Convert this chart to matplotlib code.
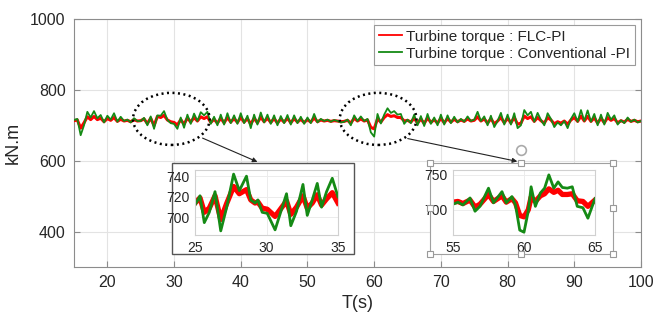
import numpy as np
import matplotlib
matplotlib.use('Agg')
import matplotlib.pyplot as plt
from matplotlib.patches import Ellipse, Rectangle, FancyArrowPatch
from matplotlib.lines import Line2D

plt.rcParams['font.family'] = ['Liberation Sans', 'DejaVu Sans']

# main trace, sampled every 0.5 s from 15 to 100 s
t_main = np.arange(15.0, 100.01, 0.5)
green_main = [
  715, 718, 672, 700, 738, 722, 740, 720, 729, 708,
  727, 716, 734, 710, 724, 712, 716, 708, 720, 712,
  712, 721, 700, 725, 690, 728, 727, 740, 715, 706,
  704, 690, 722, 693, 730, 704, 733, 712, 737, 728,
  738, 704, 724, 700, 730, 702, 734, 706, 728, 704,
  734, 706, 727, 692, 730, 702, 736, 708, 730, 704,
  728, 700, 726, 706, 729, 702, 728, 706, 724, 704,
  722, 706, 732, 708, 718, 712, 716, 710, 715, 712,
  708, 710, 716, 700, 728, 712, 725, 712, 718, 680,
  668, 732, 705, 730, 748, 735, 740, 730, 732, 704,
  716, 706, 730, 700, 726, 698, 732, 704, 722, 700,
  730, 702, 728, 706, 724, 708, 718, 710, 725, 712,
  716, 738, 712, 725, 700, 727, 695, 712, 735, 702,
  730, 702, 734, 692, 700, 743, 728, 738, 710, 735,
  715, 700, 734, 718, 695, 708, 700, 712, 692, 718,
  734, 710, 743, 712, 742, 710, 732, 700, 730, 702,
  735, 716, 728, 702, 714, 706, 722, 710, 716, 708,
  712]
red_main = [
  713, 715, 692, 707, 724, 716, 725, 716, 720, 710,
  719, 714, 722, 711, 717, 712, 714, 710, 716, 712,
  713, 718, 705, 720, 699, 725, 722, 728, 715, 710,
  708, 701, 716, 703, 721, 709, 722, 712, 724, 719,
  724, 708, 717, 706, 720, 707, 722, 709, 719, 708,
  722, 709, 719, 703, 720, 707, 723, 710, 720, 708,
  719, 706, 718, 709, 720, 707, 719, 709, 717, 708,
  716, 709, 721, 710, 715, 712, 714, 711, 713, 712,
  710, 711, 714, 706, 720, 712, 718, 712, 715, 694,
  690, 718, 709, 722, 730, 725, 727, 722, 722, 712,
  714, 709, 720, 706, 718, 705, 721, 708, 716, 706,
  720, 707, 719, 709, 717, 710, 715, 711, 718, 712,
  714, 724, 712, 718, 706, 719, 704, 712, 722, 707,
  720, 707, 722, 703, 706, 726, 719, 724, 711, 722,
  713, 706, 722, 715, 704, 710, 706, 712, 703, 715,
  722, 711, 726, 712, 725, 711, 721, 706, 720, 707,
  722, 714, 719, 707, 713, 709, 717, 711, 714, 710,
  712]

# zoom 1 : 25-35 s
t_z1 = [25.0, 25.35, 25.65, 26.0, 26.4, 26.8, 27.2, 27.7, 28.1, 28.6, 28.9,
        29.2, 29.4, 29.7, 30.05, 30.6, 31.4, 31.7, 32.1, 32.55, 32.85, 33.2,
        33.55, 33.85, 34.2, 34.6, 35.0]
green_z1 = [712, 721, 695, 705, 725, 687, 709, 742, 726, 740, 717, 714, 717,
            705, 704, 688, 723, 692, 706, 732, 702, 717, 733, 710, 725, 738, 720]
red_z1 = [714, 719, 705, 709, 721, 698, 713, 730, 723, 727, 717, 714, 715,
          709, 708, 701, 716, 703, 710, 721, 709, 714, 722, 712, 718, 724, 714]

# zoom 2 : 55-65 s
t_z2 = [55.0, 55.35, 55.7, 56.2, 56.55, 56.9, 57.5, 57.85, 58.45, 58.75, 59.15,
        59.4, 59.7, 60.0, 60.3, 60.5, 60.8, 61.15, 61.45, 61.75, 62.1, 62.4,
        62.7, 63.05, 63.4, 63.75, 64.15, 64.5, 65.0]
green_z2 = [708, 711, 707, 717, 698, 705, 731, 710, 726, 710, 719, 707, 671,
            668, 698, 733, 705, 724, 731, 750, 731, 740, 732, 731, 733, 705,
            703, 688, 716]
red_z2 = [711, 712, 709, 714, 704, 708, 722, 712, 720, 711, 716, 710, 692,
          690, 700, 718, 712, 720, 723, 730, 725, 728, 722, 722, 723, 713,
          712, 705, 714]

labels = ['Turbine torque : FLC-PI', 'Turbine torque : Conventional -PI']
RED = '#ff0000'
GREEN = '#158a15'
TXT = '#262626'
W, H = 660, 323

fig = plt.figure(figsize=(6.6, 3.23), dpi=100)

def frac(x, y):
  # pixel position (from top left) -> figure fraction
  return (x / W, 1 - y / H)

ax = fig.add_axes([74/W, 1-267/H, (641-74)/W, (267-19)/H])
ax.plot(t_main, red_main, color=RED, lw=2.2, zorder=3, solid_joinstyle='round')
ax.plot(t_main, green_main, color=GREEN, lw=1.3, zorder=4, solid_joinstyle='round')
ax.set_xlim(15, 100)
ax.set_ylim(300, 1000)
ax.set_xticks(range(20, 101, 10))
ax.set_yticks([400, 600, 800, 1000])
ax.grid(True, color='#e3e3e3', lw=0.8)
ax.set_axisbelow(True)
for s in ax.spines.values():
  s.set_color('#8c8c8c')
ax.tick_params(direction='in', length=4, color='#8c8c8c', labelcolor=TXT,
               labelsize=11.5, right=True, top=False, pad=6)
ax.set_xlabel('T(s)', fontsize=13, labelpad=3, color=TXT)
ax.set_ylabel('kN.m', fontsize=13, labelpad=6, color=TXT)

handles = [Line2D([], [], color=RED, lw=1.3), Line2D([], [], color=GREEN, lw=1.3)]
leg = ax.legend(handles, labels, loc='upper right', fontsize=11, fancybox=False,
                edgecolor='#9a9a9a', framealpha=1, handlelength=1.5,
                handletextpad=0.3, labelspacing=0.2, borderaxespad=0.4,
                borderpad=0.3)
leg.get_frame().set_linewidth(0.8)
for txt in leg.get_texts():
  txt.set_color(TXT)

# dotted ellipses round the zoomed windows
for xc in (29.6, 60.6):
  ax.add_patch(Ellipse((xc, 718), 11.5, 147, fill=False, ec='black',
                       lw=1.8, ls=(0, (0.8, 1.4)), zorder=5))

# inset frames
fig.add_artist(Rectangle(frac(172, 254), 182/W, 91/H, transform=fig.transFigure,
                         fc='white', ec='#555555', lw=1.0, zorder=2))
fig.add_artist(Rectangle(frac(430, 254), 183/W, 91/H, transform=fig.transFigure,
                         fc='white', ec='#a0a0a0', lw=0.8, zorder=2))

def inset(rect, t, g, r, xl, yl, xt, yt):
  a = fig.add_axes(rect, zorder=3)
  a.plot(t, r, color=RED, lw=3.8, solid_joinstyle='round')
  a.plot(t, g, color=GREEN, lw=2.0, solid_joinstyle='round')
  a.set_xlim(*xl)
  a.set_ylim(*yl)
  a.set_xticks(xt)
  a.set_yticks(yt)
  a.grid(True, color='#ececec', lw=0.7)
  a.set_axisbelow(True)
  for s in a.spines.values():
    s.set_color('#d0d0d0')
  a.tick_params(length=0, labelsize=10, pad=4, colors=TXT)
  return a

inset([195/W, 1-235/H, 143/W, 65/H], t_z1, green_z1, red_z1,
      (25, 35), (683, 746), [25, 30, 35], [700, 720, 740])
inset([453/W, 1-235/H, 142/W, 65/H], t_z2, green_z2, red_z2,
      (55, 65), (664, 757), [55, 60, 65], [700, 750])

# arrows from the ellipses to the insets
for a, b in (((200, 137), (260, 163)), ((405, 138), (520, 162))):
  fig.add_artist(FancyArrowPatch(frac(*a), frac(*b), transform=fig.transFigure,
                                 arrowstyle='-|>', mutation_scale=7, lw=0.8,
                                 color='#222222', zorder=6))

# selection handles on the second inset
hx = [430, 521, 613, 430, 613, 430, 521, 613]
hy = [163, 163, 163, 208, 208, 254, 254, 254]
pts = [frac(x, y) for x, y in zip(hx, hy)]
fig.add_artist(Line2D([p[0] for p in pts], [p[1] for p in pts],
                      transform=fig.transFigure, ls='none', marker='s',
                      ms=4, mfc='white', mec='#999999', mew=0.8, zorder=7))
fig.add_artist(Line2D([frac(521, 150)[0]], [frac(521, 150)[1]],
                      transform=fig.transFigure, ls='none', marker='o',
                      ms=7, mfc='white', mec='#aaaaaa', mew=1.2, zorder=7))

fig.savefig('out.png', dpi=100)
